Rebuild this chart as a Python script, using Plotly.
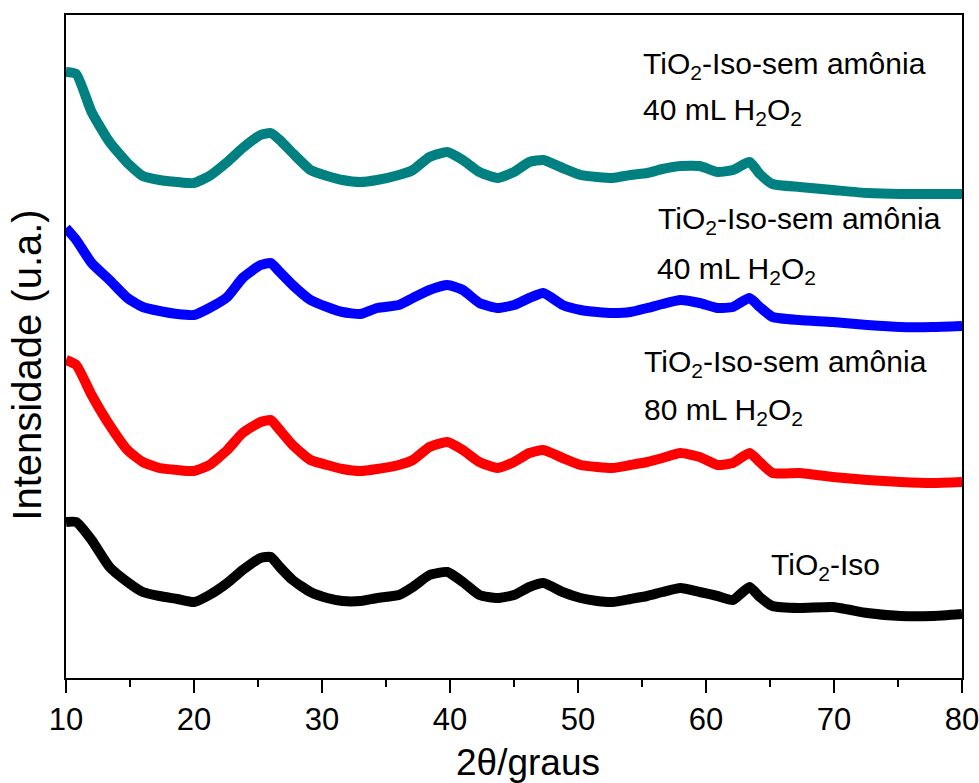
import plotly.graph_objects as go

# 2-theta positions (degrees) where the patterns are sampled
two_theta = [10.0, 10.8, 12.0, 13.4, 14.8, 16.0, 17.3, 18.7, 20.0, 21.2,
             22.6, 23.8, 25.2, 26.0, 26.7, 27.7, 29.1, 30.4, 31.6, 33.0,
             34.3, 36.0, 37.1, 38.4, 39.8, 41.0, 42.3, 43.7, 45.0, 46.2,
             47.3, 48.8, 50.2, 51.5, 52.7, 54.1, 55.4, 56.6, 58.0, 59.5,
             60.9, 62.1, 63.4, 64.2, 65.2, 67.3, 69.9, 72.6, 75.2, 77.7, 80.0]

# Stacked diffractograms (arbitrary units, offset for clarity)
tio2_iso = [156, 156, 138, 111, 96, 86, 82, 79, 76, 83,
            95, 108, 120, 121, 111, 98, 86, 80, 77, 77,
            80, 83, 91, 103, 106, 96, 83, 80, 83, 91,
            95, 86, 80, 77, 76, 79, 82, 86, 90, 86,
            82, 78, 91, 81, 72, 70, 71, 65, 62, 62, 64]

sem_amonia_80 = [318, 313, 283, 253, 228, 216, 210, 208, 207, 213,
                 228, 245, 256, 258, 248, 233, 218, 213, 209, 207,
                 209, 213, 218, 231, 236, 228, 216, 210, 216, 225,
                 228, 220, 213, 211, 210, 213, 216, 220, 225, 221,
                 213, 215, 225, 216, 205, 205, 201, 198, 196, 195, 196]

sem_amonia_40_b = [450, 438, 415, 398, 380, 371, 367, 364, 363, 370,
                   381, 400, 413, 415, 406, 393, 378, 371, 366, 364,
                   370, 373, 380, 388, 393, 388, 375, 370, 373, 380,
                   385, 373, 368, 366, 365, 366, 370, 374, 378, 375,
                   370, 371, 380, 371, 361, 358, 356, 353, 351, 351, 352]

sem_amonia_40_a = [606, 604, 566, 536, 515, 502, 498, 496, 495, 502,
                   516, 530, 543, 545, 538, 525, 508, 502, 498, 496,
                   498, 503, 508, 521, 526, 518, 506, 500, 506, 516,
                   518, 510, 503, 501, 500, 503, 505, 509, 512, 512,
                   506, 508, 516, 504, 494, 491, 488, 485, 484, 484, 484]

series = [
    (tio2_iso, "#000000"),
    (sem_amonia_80, "#FF0000"),
    (sem_amonia_40_b, "#0000FF"),
    (sem_amonia_40_a, "#008080"),
]

FONT = "Arial, Liberation Sans, sans-serif"

fig = go.Figure()
for values, color in series:
    fig.add_trace(go.Scatter(
        x=two_theta, y=values, mode="lines",
        line=dict(color=color, width=10, shape="spline", smoothing=0.5),
        showlegend=False, hoverinfo="skip",
    ))

# Sample labels: (text, 2theta of left edge, intensity of text centre)
labels = [
    ("TiO<sub>2</sub>-Iso-sem amônia", 54.9, 613),
    ("40 mL H<sub>2</sub>O<sub>2</sub>", 54.9, 567),
    ("TiO<sub>2</sub>-Iso-sem amônia", 56.1, 458),
    ("40 mL H<sub>2</sub>O<sub>2</sub>", 56.0, 408),
    ("TiO<sub>2</sub>-Iso-sem amônia", 55.0, 315),
    ("80 mL H<sub>2</sub>O<sub>2</sub>", 55.0, 267),
    ("TiO<sub>2</sub>-Iso", 64.9, 112),
]
for text, xl, yc in labels:
    fig.add_annotation(x=xl, y=yc, text=text, showarrow=False,
                       xanchor="left", yanchor="middle",
                       font=dict(family=FONT, size=30, color="black"))

# Axis titles
fig.add_annotation(xref="paper", yref="paper", x=0.5156, y=-0.128,
                   text="2θ/graus", showarrow=False,
                   xanchor="center", yanchor="middle",
                   font=dict(family=FONT, size=37, color="black"))
fig.add_annotation(xref="paper", yref="paper", x=-0.044, y=0.472,
                   text="Intensidade (u.a.)", showarrow=False, textangle=-90,
                   xanchor="center", yanchor="middle",
                   font=dict(family=FONT, size=40, color="black"))

fig.update_xaxes(
    range=[10, 80], dtick=10, tick0=10, automargin=False,
    ticklabeloverflow="allow",
    ticks="outside", ticklen=13, tickwidth=2, tickcolor="black",
    minor=dict(ticks="outside", dtick=5, ticklen=7, tickwidth=2, tickcolor="black"),
    showline=True, linewidth=2, linecolor="black", mirror=True,
    showgrid=False, zeroline=False,
    tickfont=dict(family=FONT, size=31, color="black"),
)
fig.update_yaxes(
    range=[0, 663], showticklabels=False, ticks="", automargin=False,
    showline=True, linewidth=2, linecolor="black", mirror=True,
    showgrid=False, zeroline=False,
)
fig.update_layout(
    width=979, height=783,
    margin=dict(l=66, r=17, t=15, b=105),
    paper_bgcolor="white", plot_bgcolor="white",
)

fig.write_html("out.html")
